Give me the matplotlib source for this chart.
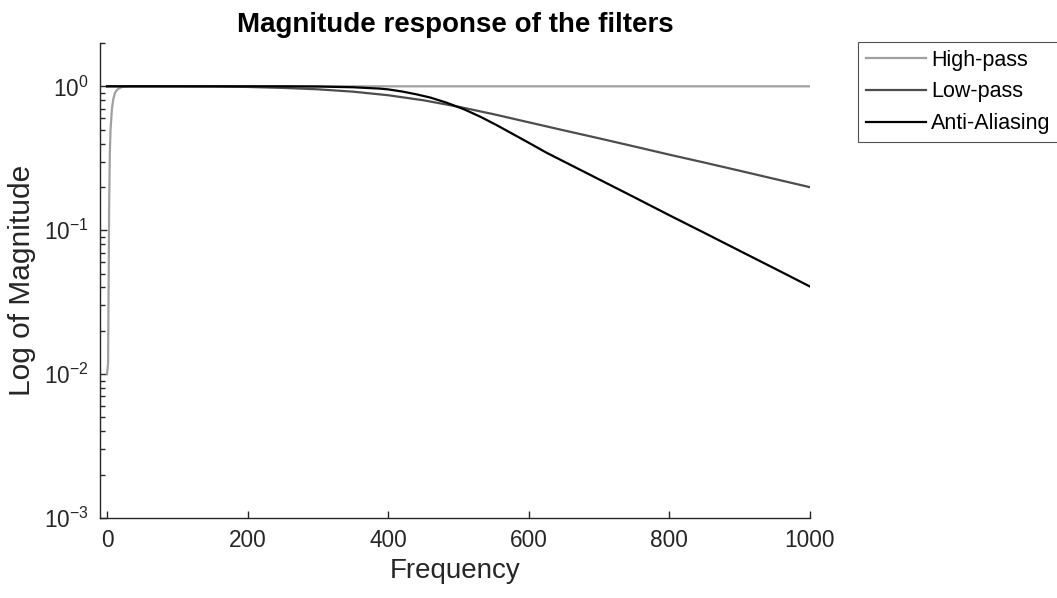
import matplotlib
matplotlib.use("Agg")
import matplotlib.pyplot as plt
from matplotlib.ticker import LogLocator, FixedLocator

plt.rcParams['font.family'] = ['Liberation Sans', 'DejaVu Sans']
plt.rcParams['mathtext.default'] = 'regular'

# values
hp_freq = [0, 1.5, 2.5, 3, 4, 5, 7, 9, 11, 13, 16, 20, 25, 30, 60, 1000]
hp_mag = [0.01, 0.012, 0.06, 0.15, 0.35, 0.5, 0.7, 0.82, 0.89, 0.93, 0.96, 0.985, 0.995, 1.0, 1.0, 1.0]

lp_freq = [0, 100, 150, 200, 250, 300, 350, 400, 450, 500, 550, 600, 650, 700, 750, 800, 850, 900, 950, 1000]
lp_mag = [1.0, 0.999, 0.997, 0.99, 0.975, 0.953, 0.918, 0.867, 0.80, 0.721, 0.64, 0.562, 0.494, 0.435, 0.382, 0.335, 0.295, 0.259, 0.227, 0.199]

aa_freq = [0, 250, 300, 350, 388, 400, 420, 440, 460, 483, 507, 531, 555, 578, 600, 625, 650, 700,
           750, 800, 850, 900, 950, 1000]
aa_mag = [1.0, 1.0, 0.997, 0.985, 0.964, 0.952, 0.92, 0.88, 0.835, 0.77, 0.695, 0.615, 0.535, 0.464, 0.405,
          0.346, 0.300, 0.2255, 0.1695, 0.127, 0.0957, 0.0719, 0.0541, 0.0406]

labels = ['High-pass', 'Low-pass', 'Anti-Aliasing']
colors = ['#a0a0a0', '#4d4d4d', '#000000']

fig = plt.figure(figsize=(10.57, 5.98), dpi=100)
ax = fig.add_axes([100/1057, 1-518/598, 710/1057, 475/598])

ax.plot(hp_freq, hp_mag, color=colors[0], lw=1.6, label=labels[0])
ax.plot(lp_freq, lp_mag, color=colors[1], lw=1.6, label=labels[1])
ax.plot(aa_freq, aa_mag, color=colors[2], lw=1.6, label=labels[2])

ax.set_yscale('log')
ax.set_xlim(-10, 1000)
ax.set_ylim(1e-3, 2)
ax.xaxis.set_major_locator(FixedLocator([0, 200, 400, 600, 800, 1000]))
ax.yaxis.set_major_locator(LogLocator(base=10, numticks=10))
ax.yaxis.set_minor_locator(LogLocator(base=10, subs=range(2, 10), numticks=20))

for s in ['top', 'right']:
    ax.spines[s].set_visible(False)
for s in ['left', 'bottom']:
    ax.spines[s].set_linewidth(1.0)
    ax.spines[s].set_color('#262626')

ax.tick_params(which='major', direction='in', length=5, width=1.0, colors='#262626', labelsize=16.3, pad=8)
ax.tick_params(which='minor', direction='in', length=3.5, width=1.0, colors='#262626')
ax.tick_params(axis='x', pad=8)

ax.set_xlabel('Frequency', fontsize=20, color='#262626', labelpad=4)
ax.set_ylabel('Log of Magnitude', fontsize=21.5, color='#262626', labelpad=6)
ax.set_title('Magnitude response of the filters', fontsize=20, fontweight='bold', pad=8)

leg = fig.legend(loc='upper left', bbox_to_anchor=(858/1057, 1-42/598), borderaxespad=0,
                 fontsize=15.5, handlelength=2.8, handletextpad=0.25, labelspacing=0.5,
                 fancybox=False, frameon=True, borderpad=0.35)
leg.get_frame().set_edgecolor('#262626')
leg.get_frame().set_linewidth(0.8)

fig.savefig('out.png', dpi=100)
